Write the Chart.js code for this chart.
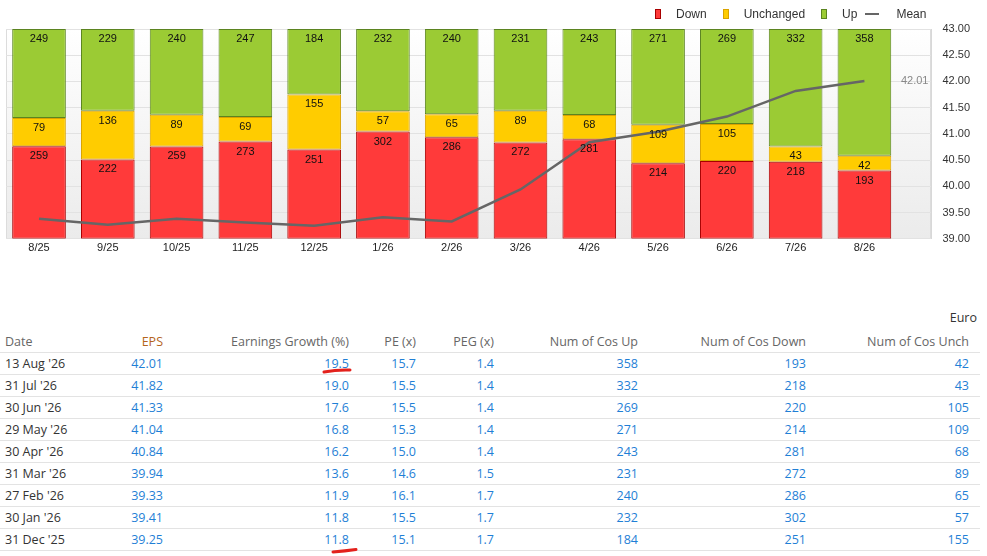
<!DOCTYPE html>
<html>
<head>
<meta charset="utf-8">
<script src="https://cdn.jsdelivr.net/npm/chart.js@4.4.1/dist/chart.umd.min.js"></script>
<style>
body { margin:0; background:#fff; width:987px; height:556px; overflow:hidden; position:relative; font-family:"Open Sans", sans-serif; }
#chartBox { position:absolute; left:0; top:0; width:987px; height:262px; }
#legend { position:absolute; top:6px; left:655px; display:flex; align-items:center; font:12px Arial, "Liberation Sans", sans-serif; color:#333; height:16px; }
#legend .it { display:flex; align-items:center; margin-left:16px; }
#legend .it:first-child { margin-left:0; }
#legend .it.mean { margin-left:8px; }
#legend .mk { display:inline-block; width:4px; height:8px; border:1px solid; }
#legend .ln { display:inline-block; width:14px; height:2px; background:#666; }
#legend .tx { margin-left:15px; }
#legend .mean .tx { margin-left:17px; }
#euro { position:absolute; top:310px; right:10px; font-size:12.5px; line-height:16px; color:#333; }
table { position:absolute; top:331px; left:0; width:980px; border-collapse:collapse; table-layout:fixed; font-size:12.5px; }
th, td { height:21px; padding:0; text-align:right; border-bottom:1px solid #e3e3e3; white-space:nowrap; line-height:16px; }
th { font-weight:normal; color:#666; }
th.eps { color:#b5651d; }
td { color:#1f7fd6; }
th.first, td.first { text-align:left; padding-left:5px; }
td.first { color:#333; }
#marks { position:absolute; left:0; top:0; pointer-events:none; }
</style>
</head>
<body>
<div id="chartBox"><canvas id="epsChart"></canvas></div>
<div id="legend"></div>
<div id="euro">Euro</div>
<table id="epsTable">
  <colgroup>
    <col style="width:100px"><col style="width:63px"><col style="width:186px"><col style="width:67px"><col style="width:78px">
    <col style="width:144px"><col style="width:168px"><col style="width:163px"><col style="width:11px">
  </colgroup>
  <thead>
    <tr><th class="first">Date</th><th class="eps">EPS</th><th>Earnings Growth (%)</th><th>PE (x)</th><th>PEG (x)</th>
        <th>Num of Cos Up</th><th>Num of Cos Down</th><th>Num of Cos Unch</th><th></th></tr>
  </thead>
  <tbody></tbody>
</table>
<svg id="marks" width="987" height="556">
  <path d="M324 372 Q337 369.5 350 370" stroke="#e3211c" stroke-width="3" fill="none" stroke-linecap="round"/>
  <path d="M333 552 Q345 551 356 549.5" stroke="#e3211c" stroke-width="3" fill="none" stroke-linecap="round"/>
</svg>
<script>
// Chart data
const labels = ['8/25', '9/25', '10/25', '11/25', '12/25', '1/26', '2/26', '3/26', '4/26', '5/26', '6/26', '7/26', '8/26'];
const down = [259, 222, 259, 273, 251, 302, 286, 272, 281, 214, 220, 218, 193];
const unchanged = [79, 136, 89, 69, 155, 57, 65, 89, 68, 109, 105, 43, 42];
const up = [249, 229, 240, 247, 184, 232, 240, 231, 243, 271, 269, 332, 358];
const mean = [39.38, 39.27, 39.38, 39.31, 39.25, 39.41, 39.33, 39.94, 40.84, 41.04, 41.33, 41.82, 42.01];

// Table data (newest first)
const dates = ["13 Aug '26", "31 Jul '26", "30 Jun '26", "29 May '26", "30 Apr '26", "31 Mar '26", "27 Feb '26", "30 Jan '26", "31 Dec '25"];
const eps = ['42.01', '41.82', '41.33', '41.04', '40.84', '39.94', '39.33', '39.41', '39.25'];
const growth = ['19.5', '19.0', '17.6', '16.8', '16.2', '13.6', '11.9', '11.8', '11.8'];
const pe = ['15.7', '15.5', '15.5', '15.3', '15.0', '14.6', '16.1', '15.5', '15.1'];
const peg = ['1.4', '1.4', '1.4', '1.4', '1.4', '1.5', '1.7', '1.7', '1.7'];

const colors = {
    down: ['#ff3a3a', '#a80000'],
    unchanged: ['#ffcc00', '#d9a300'],
    up: ['#9bcb34', '#5b8420']
};

// Legend
const legendItems = [['Down', colors.down], ['Unchanged', colors.unchanged], ['Up', colors.up]];
let legendHtml = '';
legendItems.forEach(([name, c]) => {
    legendHtml += `<span class="it"><span class="mk" style="background:${c[0]};border-color:${c[1]}"></span><span class="tx">${name}</span></span>`;
});
legendHtml += '<span class="it mean"><span class="ln"></span><span class="tx">Mean</span></span>';
document.getElementById('legend').innerHTML = legendHtml;

// Table rows
const tbody = document.querySelector('#epsTable tbody');
dates.forEach((d, i) => {
    const k = labels.length - 1 - i;
    tbody.innerHTML += `<tr>
        <td class="first">${d}</td>
        <td>${eps[i]}</td>
        <td>${growth[i]}</td>
        <td>${pe[i]}</td>
        <td>${peg[i]}</td>
        <td>${up[k]}</td>
        <td>${down[k]}</td>
        <td>${unchanged[k]}</td>
        <td></td>
    </tr>`;
});

// Each bar is drawn as a share of that month's total
const totals = labels.map((_, i) => down[i] + unchanged[i] + up[i]);
function share(arr) {
    return arr.map((v, i) => ({ x: i, y: v / totals[i] * 100 }));
}

function barSet(name, arr, c) {
    return {
        label: name,
        data: share(arr),
        counts: arr,
        backgroundColor: c[0],
        borderColor: c[1],
        borderWidth: 1,
        borderSkipped: false,
        barPercentage: 0.78,
        categoryPercentage: 1,
        stack: 'cos',
        order: 1
    };
}

const plotBg = {
    id: 'plotBg',
    beforeDraw(chart) {
        const { ctx, chartArea: a } = chart;
        const g = ctx.createLinearGradient(0, a.top, 0, a.bottom);
        g.addColorStop(0, '#ffffff');
        g.addColorStop(1, '#ebebeb');
        ctx.save();
        ctx.fillStyle = g;
        ctx.fillRect(a.left, a.top, a.right - a.left, a.bottom - a.top);
        ctx.strokeStyle = '#dcdcdc';
        ctx.lineWidth = 1;
        ctx.strokeRect(Math.round(a.left) + 0.5, Math.round(a.top) + 0.5, Math.round(a.right - a.left) - 1, Math.round(a.bottom - a.top) - 1);
        ctx.restore();
    }
};

const barLabels = {
    id: 'barLabels',
    afterDatasetsDraw(chart) {
        const { ctx, chartArea: a } = chart;
        ctx.save();
        ctx.font = '11px Arial, "Liberation Sans", sans-serif';
        ctx.fillStyle = '#111';
        ctx.textAlign = 'center';
        ctx.textBaseline = 'middle';
        chart.data.datasets.forEach((ds, i) => {
            if (!ds.counts) return;
            chart.getDatasetMeta(i).data.forEach((bar, j) => {
                ctx.fillText(ds.counts[j], bar.x, bar.y + 10);
            });
        });
        // last mean value at the right of the plot
        const last = mean[mean.length - 1];
        ctx.fillStyle = '#888';
        ctx.textAlign = 'right';
        ctx.fillText(last.toFixed(2), a.right - 3, chart.scales.y1.getPixelForValue(last));
        ctx.restore();
    }
};

Chart.defaults.font.family = 'Arial, "Liberation Sans", sans-serif';

const ctx = document.getElementById('epsChart').getContext('2d');
const epsChart = new Chart(ctx, {
    type: 'bar',
    data: {
        datasets: [
            barSet('Down', down, colors.down),
            barSet('Unchanged', unchanged, colors.unchanged),
            barSet('Up', up, colors.up),
            {
                type: 'line',
                label: 'Mean',
                data: mean.map((v, i) => ({ x: i, y: v })),
                yAxisID: 'y1',
                borderColor: '#666666',
                borderWidth: 2.5,
                pointRadius: 0,
                tension: 0,
                order: 0
            }
        ]
    },
    options: {
        responsive: true,
        maintainAspectRatio: false,
        animation: false,
        layout: { padding: { top: 29, left: 6, right: 6, bottom: 4 } },
        plugins: {
            legend: { display: false },
            tooltip: { enabled: false }
        },
        scales: {
            x: {
                type: 'linear',
                min: -0.48,
                max: 12.975,
                offset: false,
                stacked: true,
                grid: { display: false, drawTicks: false },
                border: { display: false },
                afterBuildTicks: (scale) => { scale.ticks = labels.map((_, i) => ({ value: i })); },
                ticks: {
                    autoSkip: false,
                    maxRotation: 0,
                    padding: 3,
                    color: '#222',
                    font: { size: 11 },
                    callback: (v) => labels[v]
                }
            },
            y: {
                stacked: true,
                min: 0,
                max: 100,
                display: false
            },
            y1: {
                position: 'right',
                min: 39,
                max: 43,
                grid: { color: '#e2e2e2', drawTicks: false },
                border: { display: true, color: '#d8d8d8' },
                ticks: {
                    stepSize: 0.5,
                    padding: 11,
                    color: '#333',
                    font: { size: 11 },
                    callback: (v) => v.toFixed(2)
                }
            }
        }
    },
    plugins: [plotBg, barLabels]
});
</script>
</body>
</html>
